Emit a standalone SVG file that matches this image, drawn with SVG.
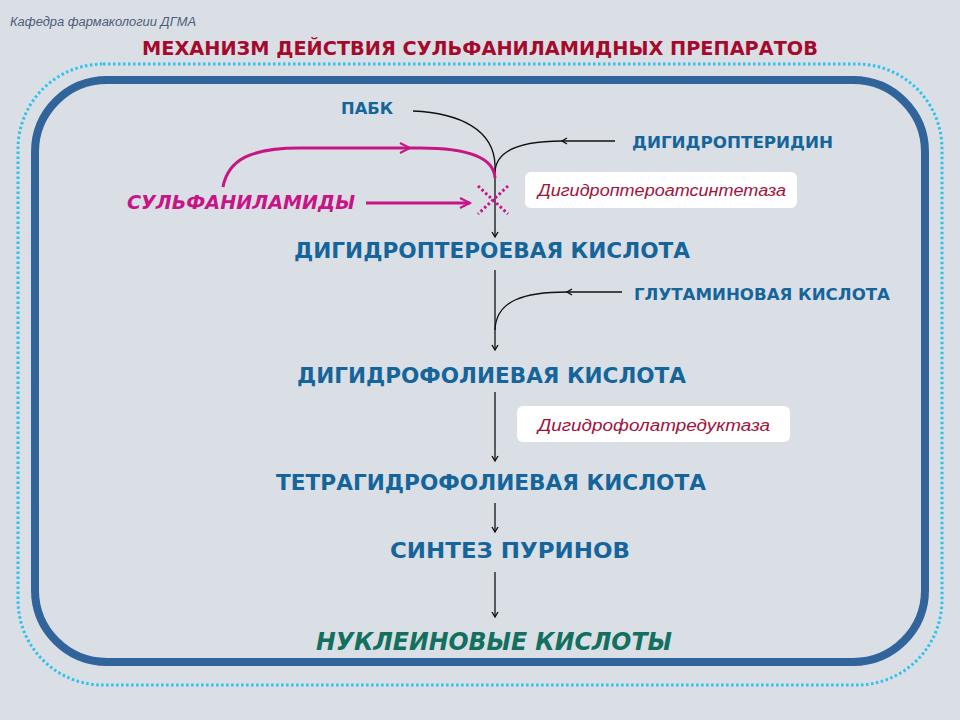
<svg xmlns="http://www.w3.org/2000/svg" width="960" height="720" viewBox="0 0 960 720">
<defs>
<style>
.bl{font-family:"DejaVu Sans","Liberation Sans",Arial,sans-serif;font-weight:bold;fill:#16659a}
.enz{font-family:"Liberation Sans",Arial,sans-serif;font-style:italic;fill:#a3123a;font-size:16px}
.ln{fill:none;stroke:#111;stroke-width:1.3}
.mg{fill:none;stroke:#c81585;stroke-width:3}
.box{fill:#fff}
</style>
<marker id="ah" markerWidth="8" markerHeight="8" refX="6" refY="4" orient="auto" markerUnits="userSpaceOnUse">
<path d="M1,1 L6,4 L1,7" fill="none" stroke="#111" stroke-width="1.4"/>
</marker>
<marker id="am" markerWidth="14" markerHeight="12" refX="11" refY="6" orient="auto" markerUnits="userSpaceOnUse">
<path d="M1,1 L11,6 L1,11" fill="none" stroke="#c81585" stroke-width="2"/>
</marker>
</defs>
<rect width="960" height="720" fill="#dadfe6"/>
<rect x="18" y="64" width="924" height="621" rx="85" fill="none" stroke="#2fc2ea" stroke-width="3" stroke-dasharray="2.5 2.5"/>
<rect x="35" y="80" width="890" height="582" rx="72" fill="none" stroke="#31649b" stroke-width="8"/>
<text x="10" y="26" font-family="'Liberation Sans',Arial,sans-serif" font-style="italic" font-size="12.5" fill="#4d5c7a" textLength="186" lengthAdjust="spacingAndGlyphs">Кафедра  фармакологии ДГМА</text>
<text x="142" y="55" font-family="'DejaVu Sans','Liberation Sans',Arial,sans-serif" font-weight="bold" font-size="20" fill="#a50a2c" textLength="676" lengthAdjust="spacingAndGlyphs">МЕХАНИЗМ ДЕЙСТВИЯ СУЛЬФАНИЛАМИДНЫХ  ПРЕПАРАТОВ</text>
<g id="connectors">
<path class="ln" d="M413,111 C460,113 494,130 495,165 L495,237" marker-end="url(#ah)"/>
<path class="ln" d="M615,141 L562,141" marker-end="url(#ah)"/>
<path class="ln" d="M562,141 C520,141 496,150 495,172"/>
<path class="ln" d="M495,270 L495,350" marker-end="url(#ah)"/>
<path class="ln" d="M622,292 L567,292" marker-end="url(#ah)"/>
<path class="ln" d="M567,292 C525,292 496,300 495,330"/>
<path class="ln" d="M495,392 L495,461" marker-end="url(#ah)"/>
<path class="ln" d="M495,503 L495,532" marker-end="url(#ah)"/>
<path class="ln" d="M495,572 L495,617" marker-end="url(#ah)"/>
<path class="mg" d="M366,203 L470,203" marker-end="url(#am)"/>
<path class="mg" d="M223,187 C228,160 250,148 300,148 L410,148" marker-end="url(#am)"/>
<path class="mg" d="M410,148 L420,148 C470,148 494,158 495,178"/>
<path d="M478,186 L508,214 M508,186 L478,214" fill="none" stroke="#c81585" stroke-width="3" stroke-dasharray="2.5 2.5"/>
</g>
<g id="pabk"><text class="bl" x="341" y="114" font-size="16" textLength="52" lengthAdjust="spacingAndGlyphs">ПАБК</text></g>
<g id="dihydropteridine"><text class="bl" x="632" y="148" font-size="16" textLength="201" lengthAdjust="spacingAndGlyphs">ДИГИДРОПТЕРИДИН</text></g>
<g id="enzyme1"><rect class="box" x="525" y="172" width="272" height="36" rx="6"/><text class="enz" x="538" y="196" textLength="248" lengthAdjust="spacingAndGlyphs">Дигидроптероатсинтетаза</text></g>
<g id="sulfa"><text x="127" y="209" font-family="'DejaVu Sans','Liberation Sans',Arial,sans-serif" font-weight="bold" font-style="italic" font-size="19" fill="#c81585" textLength="228" lengthAdjust="spacingAndGlyphs">СУЛЬФАНИЛАМИДЫ</text></g>
<g id="dhpa"><text class="bl" x="294" y="258" font-size="22" textLength="396" lengthAdjust="spacingAndGlyphs">ДИГИДРОПТЕРОЕВАЯ КИСЛОТА</text></g>
<g id="glu"><text class="bl" x="634" y="300" font-size="16" textLength="256" lengthAdjust="spacingAndGlyphs">ГЛУТАМИНОВАЯ КИСЛОТА</text></g>
<g id="dhfa"><text class="bl" x="297" y="383" font-size="22" textLength="389" lengthAdjust="spacingAndGlyphs">ДИГИДРОФОЛИЕВАЯ КИСЛОТА</text></g>
<g id="enzyme2"><rect class="box" x="517" y="406" width="273" height="36" rx="6"/><text class="enz" x="538" y="431" textLength="232" lengthAdjust="spacingAndGlyphs">Дигидрофолатредуктаза</text></g>
<g id="thfa"><text class="bl" x="276" y="490" font-size="22" textLength="430" lengthAdjust="spacingAndGlyphs">ТЕТРАГИДРОФОЛИЕВАЯ КИСЛОТА</text></g>
<g id="purine"><text class="bl" x="390" y="558" font-size="22" textLength="240" lengthAdjust="spacingAndGlyphs">СИНТЕЗ ПУРИНОВ</text></g>
<g id="nucleic"><text x="316" y="650" font-family="'DejaVu Sans','Liberation Sans',Arial,sans-serif" font-weight="bold" font-style="italic" font-size="25" fill="#13705f" textLength="356" lengthAdjust="spacingAndGlyphs">НУКЛЕИНОВЫЕ КИСЛОТЫ</text></g>
</svg>
